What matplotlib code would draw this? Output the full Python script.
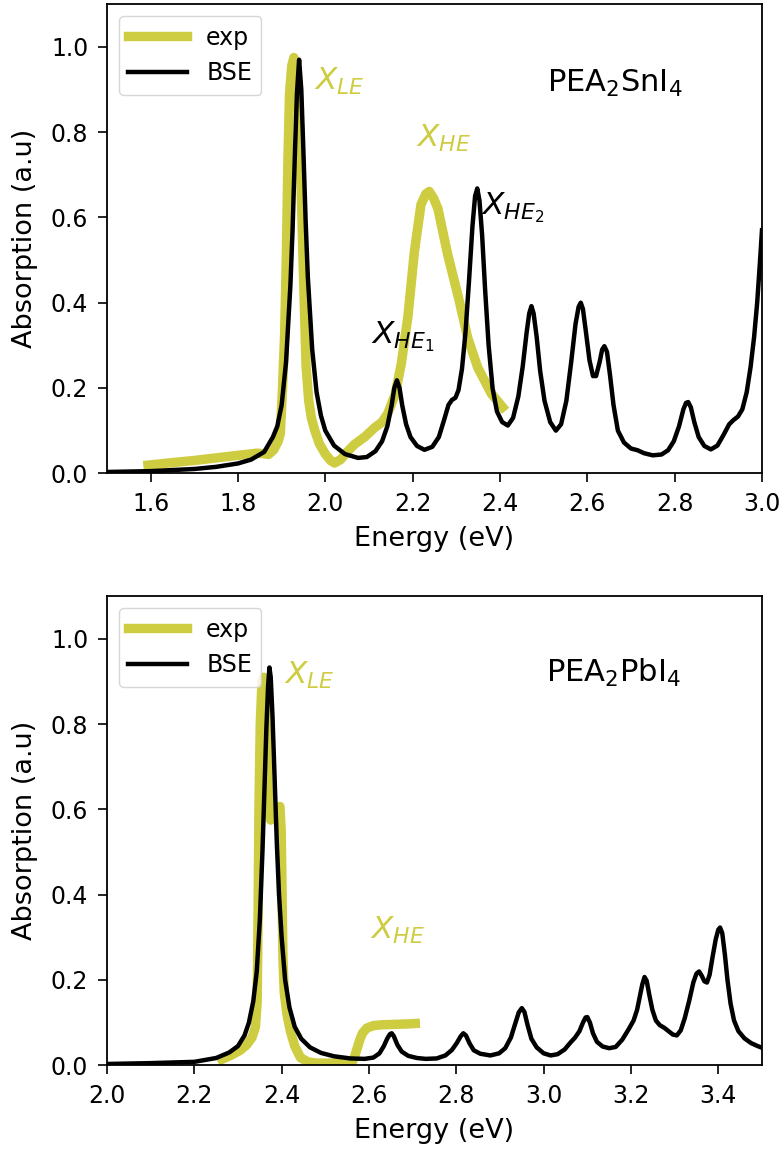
import matplotlib
matplotlib.use("Agg")
import matplotlib.pyplot as plt

# ---- PEA2SnI4 (top) ----
sn_bse_e = [1.50, 1.60, 1.70, 1.75, 1.80, 1.83, 1.86, 1.88, 1.89, 1.90,
            1.91, 1.92, 1.925, 1.930, 1.935, 1.940, 1.945, 1.950, 1.955, 1.960,
            1.970, 1.980, 1.990, 2.000, 2.020, 2.045, 2.075, 2.095, 2.115, 2.130,
            2.142, 2.152, 2.158, 2.164, 2.170, 2.176, 2.185, 2.195, 2.210, 2.227,
            2.245, 2.260, 2.272, 2.282, 2.290, 2.298, 2.305, 2.313, 2.321, 2.329,
            2.337, 2.343, 2.348, 2.353, 2.359, 2.366, 2.374, 2.383, 2.393, 2.405,
            2.418, 2.430, 2.442, 2.452, 2.461, 2.467, 2.472, 2.477, 2.484, 2.492,
            2.502, 2.515, 2.528, 2.540, 2.552, 2.563, 2.573, 2.580, 2.585, 2.590,
            2.597, 2.605, 2.613, 2.620, 2.628, 2.634, 2.639, 2.645, 2.652, 2.660,
            2.670, 2.684, 2.700, 2.715, 2.730, 2.750, 2.770, 2.785, 2.798, 2.810,
            2.820, 2.826, 2.831, 2.837, 2.845, 2.855, 2.868, 2.883, 2.898, 2.912,
            2.925, 2.935, 2.945, 2.955, 2.965, 2.974, 2.982, 2.989, 2.995, 3.000]
sn_bse_a = [0.003, 0.005, 0.010, 0.015, 0.023, 0.032, 0.050, 0.085, 0.11, 0.16,
            0.26, 0.44, 0.57, 0.74, 0.89, 0.97, 0.90, 0.75, 0.59, 0.46,
            0.29, 0.19, 0.135, 0.10, 0.065, 0.045, 0.036, 0.038, 0.052, 0.075,
            0.11, 0.16, 0.20, 0.218, 0.20, 0.16, 0.115, 0.085, 0.064, 0.055,
            0.062, 0.085, 0.125, 0.16, 0.172, 0.177, 0.195, 0.245, 0.33, 0.45,
            0.58, 0.65, 0.668, 0.64, 0.56, 0.43, 0.30, 0.20, 0.145, 0.12,
            0.112, 0.13, 0.18, 0.25, 0.33, 0.375, 0.392, 0.375, 0.32, 0.24,
            0.17, 0.12, 0.10, 0.115, 0.17, 0.26, 0.35, 0.39, 0.40, 0.385,
            0.33, 0.265, 0.228, 0.228, 0.26, 0.29, 0.298, 0.285, 0.23, 0.16,
            0.10, 0.072, 0.058, 0.054, 0.047, 0.042, 0.044, 0.054, 0.075, 0.11,
            0.15, 0.165, 0.167, 0.155, 0.12, 0.085, 0.064, 0.056, 0.065, 0.09,
            0.115, 0.125, 0.133, 0.15, 0.19, 0.25, 0.32, 0.40, 0.49, 0.57]

sn_exp_e = [1.594, 1.65, 1.70, 1.75, 1.80, 1.843, 1.858, 1.870, 1.882, 1.892,
            1.897, 1.902, 1.907, 1.911, 1.914, 1.918, 1.923, 1.928, 1.934, 1.941,
            1.949, 1.956, 1.962, 1.968, 1.976, 1.986, 2.000, 2.012, 2.021, 2.035,
            2.05, 2.067, 2.09, 2.113, 2.13, 2.143, 2.160, 2.174, 2.189, 2.204,
            2.219, 2.230, 2.238, 2.248, 2.258, 2.28, 2.305, 2.326, 2.349, 2.38,
            2.406]
sn_exp_a = [0.019, 0.025, 0.030, 0.036, 0.042, 0.047, 0.046, 0.044, 0.055, 0.075,
            0.093, 0.20, 0.33, 0.52, 0.715, 0.89, 0.955, 0.975, 0.94, 0.81,
            0.50, 0.25, 0.17, 0.13, 0.10, 0.07, 0.045, 0.030, 0.024, 0.032,
            0.05, 0.068, 0.085, 0.107, 0.12, 0.14, 0.185, 0.257, 0.366, 0.52,
            0.63, 0.655, 0.661, 0.645, 0.62, 0.514, 0.412, 0.318, 0.248, 0.187,
            0.155]

# ---- PEA2PbI4 (bottom) ----
pb_bse_e = [2.00, 2.10, 2.20, 2.25, 2.28, 2.30, 2.315, 2.325, 2.335, 2.343,
            2.350, 2.356, 2.361, 2.365, 2.369, 2.372, 2.375, 2.379, 2.384, 2.389,
            2.394, 2.400, 2.408, 2.418, 2.430, 2.445, 2.465, 2.49, 2.52, 2.557,
            2.59, 2.61, 2.624, 2.634, 2.642, 2.648, 2.652, 2.657, 2.665, 2.675,
            2.690, 2.710, 2.730, 2.755, 2.775, 2.790, 2.801, 2.810, 2.816, 2.822,
            2.830, 2.840, 2.855, 2.878, 2.898, 2.912, 2.925, 2.935, 2.943, 2.950,
            2.956, 2.963, 2.972, 2.984, 3.000, 3.016, 3.032, 3.048, 3.062, 3.072,
            3.082, 3.090, 3.096, 3.100, 3.106, 3.113, 3.122, 3.135, 3.150, 3.165,
            3.180, 3.195, 3.206, 3.214, 3.220, 3.226, 3.231, 3.236, 3.242, 3.249,
            3.257, 3.266, 3.276, 3.286, 3.296, 3.305, 3.314, 3.323, 3.333, 3.343,
            3.350, 3.356, 3.362, 3.368, 3.374, 3.380, 3.387, 3.394, 3.400, 3.404,
            3.409, 3.415, 3.421, 3.428, 3.436, 3.446, 3.460, 3.475, 3.490, 3.500]
pb_bse_a = [0.003, 0.005, 0.008, 0.017, 0.030, 0.045, 0.07, 0.10, 0.15, 0.22,
            0.34, 0.50, 0.66, 0.79, 0.89, 0.933, 0.91, 0.82, 0.67, 0.52,
            0.40, 0.30, 0.20, 0.135, 0.09, 0.062, 0.042, 0.029, 0.021, 0.016,
            0.015, 0.018, 0.028, 0.045, 0.063, 0.073, 0.075, 0.068, 0.048, 0.032,
            0.022, 0.017, 0.015, 0.016, 0.023, 0.036, 0.052, 0.068, 0.075, 0.07,
            0.052, 0.035, 0.027, 0.023, 0.028, 0.040, 0.065, 0.098, 0.124, 0.134,
            0.125, 0.095, 0.062, 0.042, 0.028, 0.023, 0.026, 0.037, 0.054, 0.065,
            0.080, 0.100, 0.112, 0.113, 0.10, 0.075, 0.055, 0.044, 0.040, 0.043,
            0.060, 0.085, 0.105, 0.13, 0.16, 0.19, 0.207, 0.198, 0.165, 0.13,
            0.105, 0.094, 0.088, 0.08, 0.072, 0.070, 0.082, 0.11, 0.15, 0.195,
            0.215, 0.22, 0.21, 0.197, 0.194, 0.212, 0.255, 0.295, 0.318, 0.323,
            0.31, 0.26, 0.20, 0.145, 0.105, 0.08, 0.063, 0.052, 0.045, 0.041]

pb_exp_e = [2.263, 2.285, 2.305, 2.320, 2.332, 2.340, 2.344, 2.346, 2.348, 2.351,
            2.355, 2.359, 2.363, 2.367, 2.371, 2.375, 2.382, 2.390, 2.396, 2.399,
            2.401, 2.403, 2.406, 2.412, 2.420, 2.430, 2.443, 2.46, 2.48, 2.52,
            2.561, 2.567, 2.573, 2.579, 2.585, 2.595, 2.610, 2.630, 2.660, 2.690,
            2.706]
pb_exp_a = [0.014, 0.024, 0.035, 0.048, 0.065, 0.09, 0.15, 0.35, 0.60, 0.80,
            0.90, 0.91, 0.85, 0.70, 0.60, 0.575, 0.58, 0.60, 0.607, 0.55,
            0.40, 0.25, 0.17, 0.12, 0.08, 0.045, 0.018, 0.008, 0.005, 0.005,
            0.006, 0.02, 0.040, 0.060, 0.075, 0.087, 0.093, 0.095, 0.096, 0.097,
            0.098]

exp_color = "#cecc40"

fig = plt.figure(figsize=(7.82, 11.54), dpi=100)
ax1 = fig.add_axes([0.1368, 0.5899, 0.8376, 0.4064])
ax2 = fig.add_axes([0.1368, 0.0769, 0.8376, 0.4064])

panels = [
    {"ax": ax1, "exp": (sn_exp_e, sn_exp_a), "bse": (sn_bse_e, sn_bse_a),
     "xlim": (1.5, 3.0), "xticks": [1.6, 1.8, 2.0, 2.2, 2.4, 2.6, 2.8, 3.0],
     "name": r"PEA$_2$SnI$_4$", "name_xy": (2.507, 0.895)},
    {"ax": ax2, "exp": (pb_exp_e, pb_exp_a), "bse": (pb_bse_e, pb_bse_a),
     "xlim": (2.0, 3.5), "xticks": [2.0, 2.2, 2.4, 2.6, 2.8, 3.0, 3.2, 3.4],
     "name": r"PEA$_2$PbI$_4$", "name_xy": (3.006, 0.899)},
]

for p in panels:
    ax = p["ax"]
    ax.plot(*p["exp"], color=exp_color, lw=6.8, label="exp")
    ax.plot(*p["bse"], color="black", lw=3.2, label="BSE")
    ax.set_xlim(p["xlim"])
    ax.set_ylim(0, 1.1)
    ax.set_xticks(p["xticks"])
    ax.set_yticks([0.0, 0.2, 0.4, 0.6, 0.8, 1.0])
    ax.tick_params(labelsize=17, length=6.5, width=1.2, pad=7)
    for s in ax.spines.values():
        s.set_linewidth(1.3)
    ax.set_xlabel("Energy (eV)", fontsize=19.5, labelpad=7)
    ax.set_ylabel("Absorption (a.u)", fontsize=19.5, labelpad=9)
    ax.legend(loc="upper left", fontsize=17, handlelength=2.5)
    ax.text(*p["name_xy"], p["name"], fontsize=22, ha="left", va="baseline")

# peak labels
ax1.text(1.975, 0.90, r"$X_{LE}$", color=exp_color, fontsize=22.5, va="baseline")
ax1.text(2.208, 0.766, r"$X_{HE}$", color=exp_color, fontsize=22.5, va="baseline")
ax1.text(2.105, 0.304, r"$X_{HE_1}$", color="black", fontsize=22.5, va="baseline")
ax1.text(2.357, 0.607, r"$X_{HE_2}$", color="black", fontsize=22.5, va="baseline")
ax2.text(2.405, 0.894, r"$X_{LE}$", color=exp_color, fontsize=22.5, va="baseline")
ax2.text(2.603, 0.297, r"$X_{HE}$", color=exp_color, fontsize=22.5, va="baseline")

fig.savefig("out.png", dpi=100)
